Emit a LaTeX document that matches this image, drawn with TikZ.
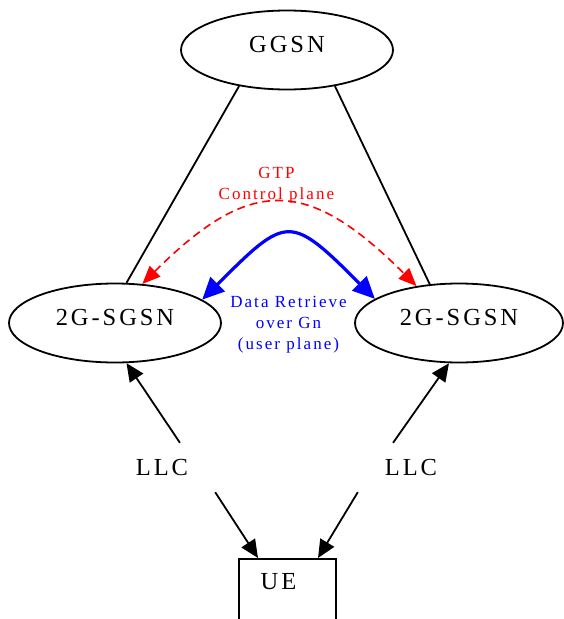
\documentclass[tikz,border=0pt]{standalone}
\usepackage{fontspec}
\setmainfont{Liberation Serif}[LetterSpace=12]
\usetikzlibrary{arrows.meta,shapes.geometric}

\begin{document}
\begin{tikzpicture}[
    x=1pt, y=-1pt,
    every node/.style={font=\fontsize{24.5}{27}\selectfont},
    sgsn/.style={draw, ellipse, line width=1.8pt, minimum width=212pt, minimum height=79pt, text height=16pt, text depth=12pt, inner sep=0pt},
    llc/.style={minimum width=106pt, minimum height=49pt, inner sep=0pt},
    link/.style={line width=1.8pt},
    flow/.style={line width=1.8pt, -{Triangle[length=18pt,width=16pt]}},
    ctrl/.style={red, line width=1.6pt, dash pattern=on 8pt off 5pt, {Triangle[length=18pt,width=15pt]}-{Triangle[length=18pt,width=15pt]}},
    user/.style={blue, line width=3.2pt, {Triangle[length=22pt,width=20pt]}-{Triangle[length=22pt,width=20pt]}},
    edgelabel/.style={font=\fontsize{17}{21}\selectfont, align=center}
]
\clip (0,0) rectangle (564,619);

\node[sgsn] (ggsn) at (287,50) {GGSN};
\node[sgsn] (sgsnA) at (115,323) {2G-SGSN};
\node[sgsn, minimum width=208pt] (sgsnB) at (459,323) {2G-SGSN};
\node[llc] (llcA) at (162,467.5) {LLC};
\node[llc] (llcB) at (411,467.5) {LLC};
\node[draw, line width=1.8pt, minimum width=97pt, minimum height=100pt, anchor=north, inner sep=0pt,
      label={[anchor=center, xshift=-9pt, yshift=-24pt]north:UE}] (ue) at (287.5,558) {};

% gn links
\draw[link] (ggsn.217) -- (sgsnA.74);
\draw[link] (ggsn.323) -- (sgsnB.127);

% control and user plane
\draw[ctrl] (sgsnA.55) to[out=45, in=135, looseness=1.43]
    node[midway, above=-4pt, text=red, edgelabel, xshift=-3pt] (gtp) {GTP\\Control plane} (sgsnB.139);
\draw[user] (sgsnA.15) to[out=45, in=135, looseness=1.78]
    node[midway, below=56pt, text=blue, edgelabel] (gn) {Data Retrieve\\over Gn\\(user plane)} (sgsnB.164);

% radio side
\draw[flow] (llcA.54) -- (sgsnA.286);
\draw[flow] (llcB.126) -- (sgsnB.256);
\draw[flow] (llcA.south east) -- (ue.north west -| 258,0);
\draw[flow] (llcB.south west) -- (ue.north west -| 318,0);
\end{tikzpicture}
\end{document}
